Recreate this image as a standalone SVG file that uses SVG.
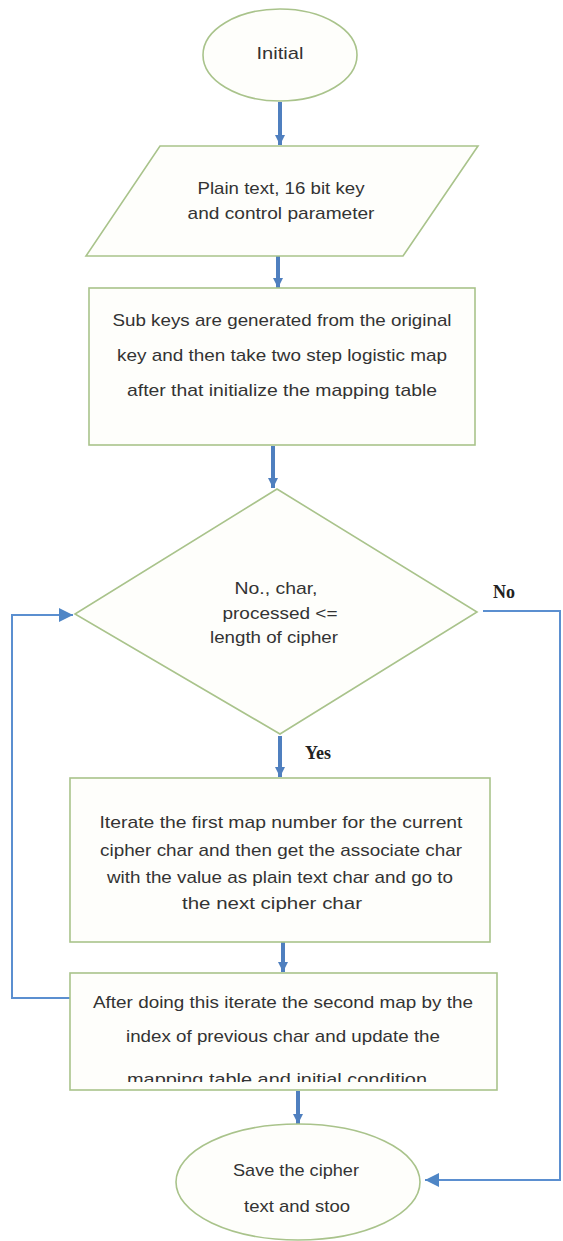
<svg xmlns="http://www.w3.org/2000/svg" width="563" height="1241" viewBox="0 0 563 1241">
<style>
.node{fill:#fefefb;stroke:#a9c38b;stroke-width:1.6}
.t{font-family:"Liberation Sans",Arial,sans-serif;font-size:17px;fill:#333333;text-anchor:middle}
.lbl{font-family:"Liberation Serif","Times New Roman",serif;font-size:18px;font-weight:bold;fill:#222}
.flow{stroke:#4f7fbf;stroke-width:4;fill:none}
.loop{stroke:#5b8fd0;stroke-width:2;fill:none}
</style>
<defs>
<marker id="ah" markerUnits="userSpaceOnUse" markerWidth="12" markerHeight="10" refX="10" refY="5" orient="auto"><path d="M0,0 L10,5 L0,10 z" fill="#4f7fbf"/></marker>
<marker id="ah2" markerUnits="userSpaceOnUse" markerWidth="16" markerHeight="14" refX="14" refY="7" orient="auto"><path d="M0,0 L14,7 L0,14 z" fill="#4f86c6"/></marker>
<clipPath id="clip3"><rect x="70" y="974" width="427" height="108"/></clipPath>
</defs>
<rect width="563" height="1241" fill="#ffffff"/>
<g id="connectors">
<line class="flow" x1="280" y1="102" x2="280" y2="145" marker-end="url(#ah)"/>
<line class="flow" x1="278" y1="256" x2="278" y2="288" marker-end="url(#ah)"/>
<line class="flow" x1="273" y1="446" x2="273" y2="488" marker-end="url(#ah)"/>
<line class="flow" x1="280" y1="736" x2="280" y2="777" marker-end="url(#ah)"/>
<line class="flow" x1="283" y1="942" x2="283" y2="972" marker-end="url(#ah)"/>
<line class="flow" x1="298" y1="1091" x2="298" y2="1124" marker-end="url(#ah)"/>
<polyline class="loop" points="70,998 12,998 12,615 73,615" marker-end="url(#ah2)"/>
<polyline class="loop" points="483,611 560,611 560,1180 425,1180" marker-end="url(#ah2)"/>
<text class="lbl" x="493" y="598">No</text>
<text class="lbl" x="305" y="759">Yes</text>
</g>
<g id="n-initial">
<ellipse class="node" cx="280" cy="55" rx="77" ry="46"/>
<text class="t" x="280" y="59" textLength="47" lengthAdjust="spacingAndGlyphs">Initial</text>
</g>
<g id="n-input">
<polygon class="node" points="160,146 478,146 403,256 86,256"/>
<text class="t" x="281" y="194" textLength="167" lengthAdjust="spacingAndGlyphs">Plain text, 16 bit key</text>
<text class="t" x="281" y="219" textLength="187" lengthAdjust="spacingAndGlyphs">and control parameter</text>
</g>
<g id="n-subkeys">
<rect class="node" x="89" y="288" width="386" height="157"/>
<text class="t" x="282" y="326" textLength="339" lengthAdjust="spacingAndGlyphs">Sub keys are generated from the original</text>
<text class="t" x="282" y="361" textLength="330" lengthAdjust="spacingAndGlyphs">key and then take two step logistic map</text>
<text class="t" x="282" y="396" textLength="310" lengthAdjust="spacingAndGlyphs">after that initialize the mapping table</text>
</g>
<g id="n-decision">
<polygon class="node" points="277,489 477,612 280,734 75,614"/>
<text class="t" x="276" y="594" textLength="83" lengthAdjust="spacingAndGlyphs">No., char,</text>
<text class="t" x="280" y="619" textLength="115" lengthAdjust="spacingAndGlyphs">processed &lt;=</text>
<text class="t" x="274" y="643" textLength="128" lengthAdjust="spacingAndGlyphs">length of cipher</text>
</g>
<g id="n-iterate">
<rect class="node" x="70" y="778" width="420" height="164"/>
<text class="t" x="281" y="828" textLength="363" lengthAdjust="spacingAndGlyphs">Iterate the first map number for the current</text>
<text class="t" x="281" y="856" textLength="362" lengthAdjust="spacingAndGlyphs">cipher char and then get the associate char</text>
<text class="t" x="280" y="883" textLength="346" lengthAdjust="spacingAndGlyphs">with the value as plain text char and go to</text>
<text class="t" x="272" y="909" textLength="180" lengthAdjust="spacingAndGlyphs">the next cipher char</text>
</g>
<g id="n-update">
<rect class="node" x="70" y="973" width="427" height="117"/>
<text class="t" x="283" y="1008" textLength="380" lengthAdjust="spacingAndGlyphs">After doing this iterate the second map by the</text>
<text class="t" x="283" y="1042" textLength="314" lengthAdjust="spacingAndGlyphs">index of previous char and update the</text>
<text class="t" x="277" y="1085" textLength="300" lengthAdjust="spacingAndGlyphs" clip-path="url(#clip3)">mapping table and initial condition</text>
</g>
<g id="n-save">
<ellipse class="node" cx="298" cy="1182" rx="122" ry="58"/>
<text class="t" x="296" y="1176" textLength="126" lengthAdjust="spacingAndGlyphs">Save the cipher</text>
<text class="t" x="297" y="1212" textLength="106" lengthAdjust="spacingAndGlyphs">text and stoo</text>
</g>
</svg>
